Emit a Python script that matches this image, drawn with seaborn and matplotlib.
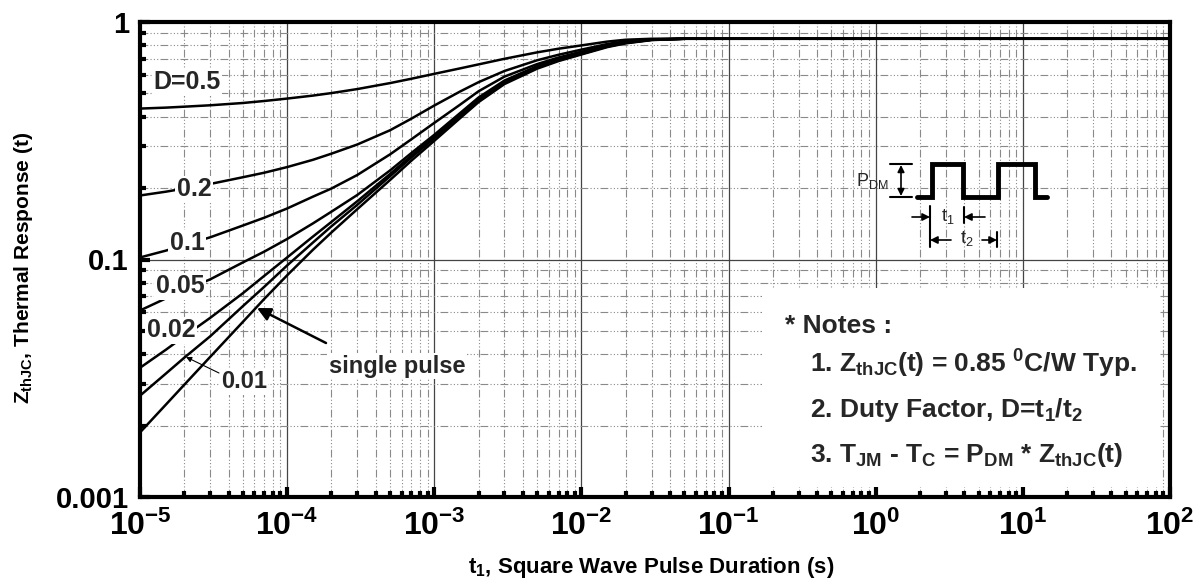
import matplotlib
matplotlib.use("Agg")
import pandas as pd
import matplotlib.pyplot as plt
import seaborn as sns
from matplotlib.ticker import LogLocator, NullFormatter
from matplotlib.patches import Rectangle


sns.set_theme(style="white")
plt.rcParams["font.family"] = ["Liberation Sans", "DejaVu Sans"]
plt.rcParams["mathtext.fontset"] = "custom"
plt.rcParams["mathtext.rm"] = "Liberation Sans"
plt.rcParams["mathtext.it"] = "Liberation Sans:italic"
plt.rcParams["mathtext.bf"] = "Liberation Sans:bold"
plt.rcParams["mathtext.default"] = "bf"

# pulse duration t1 (s) and thermal response
pulse_t = [1e-5, 1.5e-5, 2e-5, 3e-5, 5e-5, 7e-5, 1e-4, 1.5e-4, 2e-4, 3e-4,
           5e-4, 7e-4, 1e-3, 1.5e-3, 2e-3, 3e-3, 5e-3, 7e-3, 1e-2, 1.5e-2,
           2e-2, 3e-2, 5e-2, 1e-1, 1e2]
z_d050 = [0.432, 0.436, 0.440, 0.446, 0.456, 0.465, 0.476, 0.490, 0.502, 0.522,
          0.553, 0.577, 0.605, 0.638, 0.663, 0.700, 0.745, 0.772, 0.797, 0.827,
          0.842, 0.850, 0.850, 0.850, 0.850]
z_d020 = [0.186, 0.193, 0.199, 0.208, 0.222, 0.232, 0.245, 0.263, 0.279, 0.305,
          0.350, 0.392, 0.445, 0.510, 0.558, 0.622, 0.690, 0.728, 0.765, 0.808,
          0.830, 0.846, 0.850, 0.850, 0.850]
z_d010 = [0.102, 0.109, 0.115, 0.124, 0.139, 0.150, 0.164, 0.184, 0.199, 0.227,
          0.277, 0.321, 0.376, 0.449, 0.511, 0.589, 0.665, 0.709, 0.750, 0.798,
          0.824, 0.845, 0.850, 0.850, 0.850]
z_d005 = [0.061, 0.0686, 0.0743, 0.0825, 0.0972, 0.108, 0.122, 0.142, 0.159, 0.187,
          0.237, 0.281, 0.335, 0.414, 0.481, 0.567, 0.652, 0.699, 0.742, 0.793,
          0.820, 0.843, 0.850, 0.850, 0.850]
z_d002 = [0.035, 0.0417, 0.0475, 0.0568, 0.0721, 0.0854, 0.102, 0.125, 0.144, 0.176,
          0.229, 0.274, 0.329, 0.407, 0.472, 0.559, 0.646, 0.693, 0.737, 0.790,
          0.818, 0.842, 0.850, 0.850, 0.850]
z_d001 = [0.0267, 0.0331, 0.0386, 0.0475, 0.0636, 0.0768, 0.0944, 0.118, 0.138, 0.170,
          0.224, 0.269, 0.324, 0.402, 0.468, 0.555, 0.642, 0.690, 0.734, 0.788,
          0.816, 0.841, 0.850, 0.850, 0.850]
z_single = [0.0187, 0.0245, 0.0297, 0.0389, 0.0546, 0.0683, 0.0858, 0.110, 0.130, 0.163,
            0.216, 0.261, 0.316, 0.394, 0.460, 0.548, 0.636, 0.685, 0.730, 0.784,
            0.813, 0.839, 0.850, 0.850, 0.850]

curve_names = ["0.5", "0.2", "0.1", "0.05", "0.02", "0.01", "single"]
curve_values = [z_d050, z_d020, z_d010, z_d005, z_d002, z_d001, z_single]

x_ticks = [1e-5, 1e-4, 1e-3, 1e-2, 1e-1, 1e0, 1e1, 1e2]
x_tick_labels = [r"$10^{-5}$", r"$10^{-4}$", r"$10^{-3}$", r"$10^{-2}$",
                 r"$10^{-1}$", r"$10^{0}$", r"$10^{1}$", r"$10^{2}$"]
y_ticks = [0.01, 0.1, 1]
y_tick_labels = ["0.001", "0.1", "1"]

df = pd.concat(
    [pd.DataFrame({"t": pulse_t, "z": vals, "curve": name})
     for name, vals in zip(curve_names, curve_values)],
    ignore_index=True,
)

W, H = 1201, 588
fig = plt.figure(figsize=(W / 100, H / 100), dpi=100)
ax = fig.add_axes([140 / W, 1 - 497 / H, 1030 / W, 475 / H])

sns.lineplot(data=df, x="t", y="z", units="curve", estimator=None,
             color="black", linewidth=1.8, ax=ax, legend=False)

ax.set_xscale("log")
ax.set_yscale("log")
ax.set_xlim(1e-5, 1e2)
ax.set_ylim(0.01, 1)

ax.set_xticks(x_ticks, labels=x_tick_labels)
ax.set_yticks(y_ticks, labels=y_tick_labels)
ax.xaxis.set_minor_locator(LogLocator(base=10, subs=range(2, 10), numticks=50))
ax.yaxis.set_minor_locator(LogLocator(base=10, subs=range(2, 10), numticks=50))
ax.xaxis.set_minor_formatter(NullFormatter())
ax.yaxis.set_minor_formatter(NullFormatter())

ax.set_axisbelow(True)
ax.grid(which="major", color="#444444", linewidth=0.9, linestyle="-")
ax.grid(which="minor", color="#8a8a8a", linewidth=0.8,
        linestyle=(0, (7, 2, 1, 2, 1, 2, 1, 2)))

for side in ["left", "right", "top", "bottom"]:
    ax.spines[side].set_visible(True)
    ax.spines[side].set_color("black")
    ax.spines[side].set_linewidth(3)

ax.tick_params(which="major", direction="in", length=7, width=3, color="black",
               top=False, right=False, left=True, bottom=True)
ax.tick_params(which="minor", direction="in", length=4, width=3, color="black",
               top=False, right=False, left=True, bottom=True)
ax.tick_params(axis="x", which="major", labelsize=23, pad=10)
ax.tick_params(axis="y", which="major", labelsize=21, pad=8)
for lab in ax.get_xticklabels() + ax.get_yticklabels():
    lab.set_fontweight("bold")
    lab.set_color("black")

ax.set_xlabel(r"t$_{1}$, Square Wave Pulse Duration (s)", fontsize=16,
              fontweight="bold", color="black", va="center")
ax.set_ylabel(r"Z$_{thJC}$, Thermal Response (t)", fontsize=15,
              fontweight="bold", color="black", va="center")
ax.xaxis.set_label_coords((651 - 140) / 1030, (497 - 568) / 475)
ax.yaxis.set_label_coords((24 - 140) / 1030, (497 - 268) / 475)

# overlay in figure pixels for the annotations
ov = fig.add_axes([0, 0, 1, 1], zorder=5)
ov.set_xlim(0, W)
ov.set_ylim(H, 0)
ov.axis("off")
ov.patch.set_alpha(0)

white = dict(facecolor="white", edgecolor="none", pad=1)
curve_labels = [
    ("D=0.5", 187, 82, 18),
    ("0.2", 194, 189, 18),
    ("0.1", 187, 243, 18),
    ("0.05", 180, 286, 18),
    ("0.02", 171, 330, 18),
    ("0.01", 244, 382, 17),
    ("single pulse", 397, 366, 17),
]
for txt, px, py, fs in curve_labels:
    ov.text(px, py, txt, ha="center", va="center", fontsize=fs,
            fontweight="bold", bbox=white)

ov.annotate("", xy=(257, 308), xytext=(326, 343),
            arrowprops=dict(arrowstyle="-|>", color="black", lw=1.8,
                            mutation_scale=20, shrinkA=0, shrinkB=0))
ov.annotate("", xy=(186, 357), xytext=(219, 373),
            arrowprops=dict(arrowstyle="-|>", color="black", lw=0.8,
                            mutation_scale=8, shrinkA=0, shrinkB=0))

# notes block
ov.add_patch(Rectangle((762, 288), 398, 199, facecolor="white",
                       edgecolor="none", zorder=1))
notes = [
    (785, 333, r"* Notes :"),
    (810, 373, r"1. Z$_{thJC}$(t) = 0.85 $^{0}$C/W Typ."),
    (810, 417, r"2. Duty Factor, D=t$_{1}$/t$_{2}$"),
    (810, 462, r"3. T$_{JM}$ - T$_{C}$ = P$_{DM}$ * Z$_{thJC}$(t)"),
]
for px, py, txt in notes:
    ov.text(px, py, txt, ha="left", va="baseline", fontsize=19,
            fontweight="bold", zorder=3)

# square wave sketch
wave_x = [917, 932, 932, 963, 963, 998, 998, 1035, 1035, 1047]
wave_y = [197, 197, 164, 164, 197, 197, 164, 164, 197, 197]
ov.plot(wave_x, wave_y, color="black", lw=3.5, solid_joinstyle="miter")
ov.plot([890, 912], [164, 164], color="black", lw=1.5)
ov.plot([890, 912], [197, 197], color="black", lw=1.5)
ov.annotate("", xy=(901, 165), xytext=(901, 196),
            arrowprops=dict(arrowstyle="<|-|>", color="black", lw=1.2,
                            mutation_scale=10, shrinkA=0, shrinkB=0))
ov.text(872, 181, r"P$_{\mathrm{DM}}$", ha="center", va="center", fontsize=13)

ov.plot([930, 930], [206, 247], color="black", lw=1.5)
ov.plot([964, 964], [207, 223], color="black", lw=1.5)
ov.plot([997, 997], [232, 247], color="black", lw=1.5)
arrow_kw = dict(arrowstyle="-|>", color="black", lw=1.2, mutation_scale=11,
                shrinkA=0, shrinkB=0)
ov.annotate("", xy=(930, 217), xytext=(912, 217), arrowprops=arrow_kw)
ov.annotate("", xy=(964, 217), xytext=(985, 217), arrowprops=arrow_kw)
ov.annotate("", xy=(930, 240), xytext=(951, 240), arrowprops=arrow_kw)
ov.annotate("", xy=(997, 240), xytext=(982, 240), arrowprops=arrow_kw)
ov.text(948, 216, r"t$_{\mathrm{1}}$", ha="center", va="center", fontsize=13)
ov.text(967, 239, r"t$_{\mathrm{2}}$", ha="center", va="center", fontsize=13)

fig.savefig("out.png", dpi=100)
plt.close(fig)
